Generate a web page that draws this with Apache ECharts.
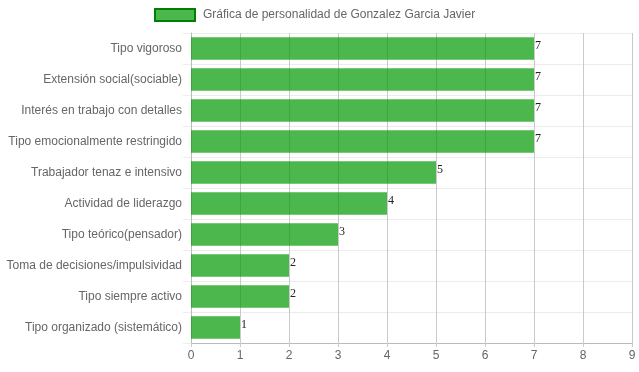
<!DOCTYPE html>
<html><head><meta charset="utf-8">
<script src="https://cdn.jsdelivr.net/npm/echarts@6/dist/echarts.min.js"></script>
<style>html,body{margin:0;padding:0;background:#fff}#c{width:639px;height:372px}</style>
</head><body><div id="c"></div>
<script>
const categories = ["Tipo vigoroso","Extensión social(sociable)","Interés en trabajo con detalles","Tipo emocionalmente restringido","Trabajador tenaz e intensivo","Actividad de liderazgo","Tipo teórico(pensador)","Toma de decisiones/impulsividad","Tipo siempre activo","Tipo organizado (sistemático)"];
const values = [7,7,7,7,5,4,3,2,2,1];
const seriesName = "Gráfica de personalidad de Gonzalez Garcia Javier";
const xTicks = [0,1,2,3,4,5,6,7,8,9];

const chart = echarts.init(document.getElementById('c'), null, {renderer:'canvas'});
chart.setOption({
  animation:false,
  legend:{top:3,left:149,itemWidth:40,itemHeight:12,itemGap:10,icon:'rect',
    textStyle:{color:'#666',fontSize:12,fontFamily:'Liberation Sans, Arial',padding:[0,0,0,3]},
    data:[{name:seriesName,itemStyle:{color:'rgba(0,153,0,0.7)',borderColor:'#008000',borderWidth:2}}]},
  grid:{left:191,right:7,top:33,bottom:29,containLabel:false},
  xAxis:{type:'value',min:xTicks[0],max:xTicks[xTicks.length-1],interval:1,
    axisLine:{show:true,lineStyle:{color:'#bbb'}},
    axisTick:{show:true,length:4,lineStyle:{color:'#ccc'}},
    axisLabel:{color:'#666',fontSize:12,fontFamily:'Liberation Sans, Arial',margin:7},
    splitLine:{show:true,lineStyle:{color:'#cacaca',width:1}}},
  yAxis:{type:'category',data:categories,inverse:true,
    axisLine:{show:true,lineStyle:{color:'#bbb'}},
    axisTick:{show:true,length:8,lineStyle:{color:'#eee'}},
    axisLabel:{color:'#666',fontSize:12,fontFamily:'Liberation Sans, Arial',margin:9},
    splitLine:{show:true,lineStyle:{color:'#ececec'}}},
  series:[{type:'bar',name:seriesName,data:values,barCategoryGap:'28%',
    itemStyle:{color:'rgba(0,153,0,0.7)'},
    label:{show:true,position:'right',distance:1,offset:[0,-3],color:'#222',fontSize:12,fontFamily:'Liberation Serif, Times New Roman'}}]
});
</script></body></html>
